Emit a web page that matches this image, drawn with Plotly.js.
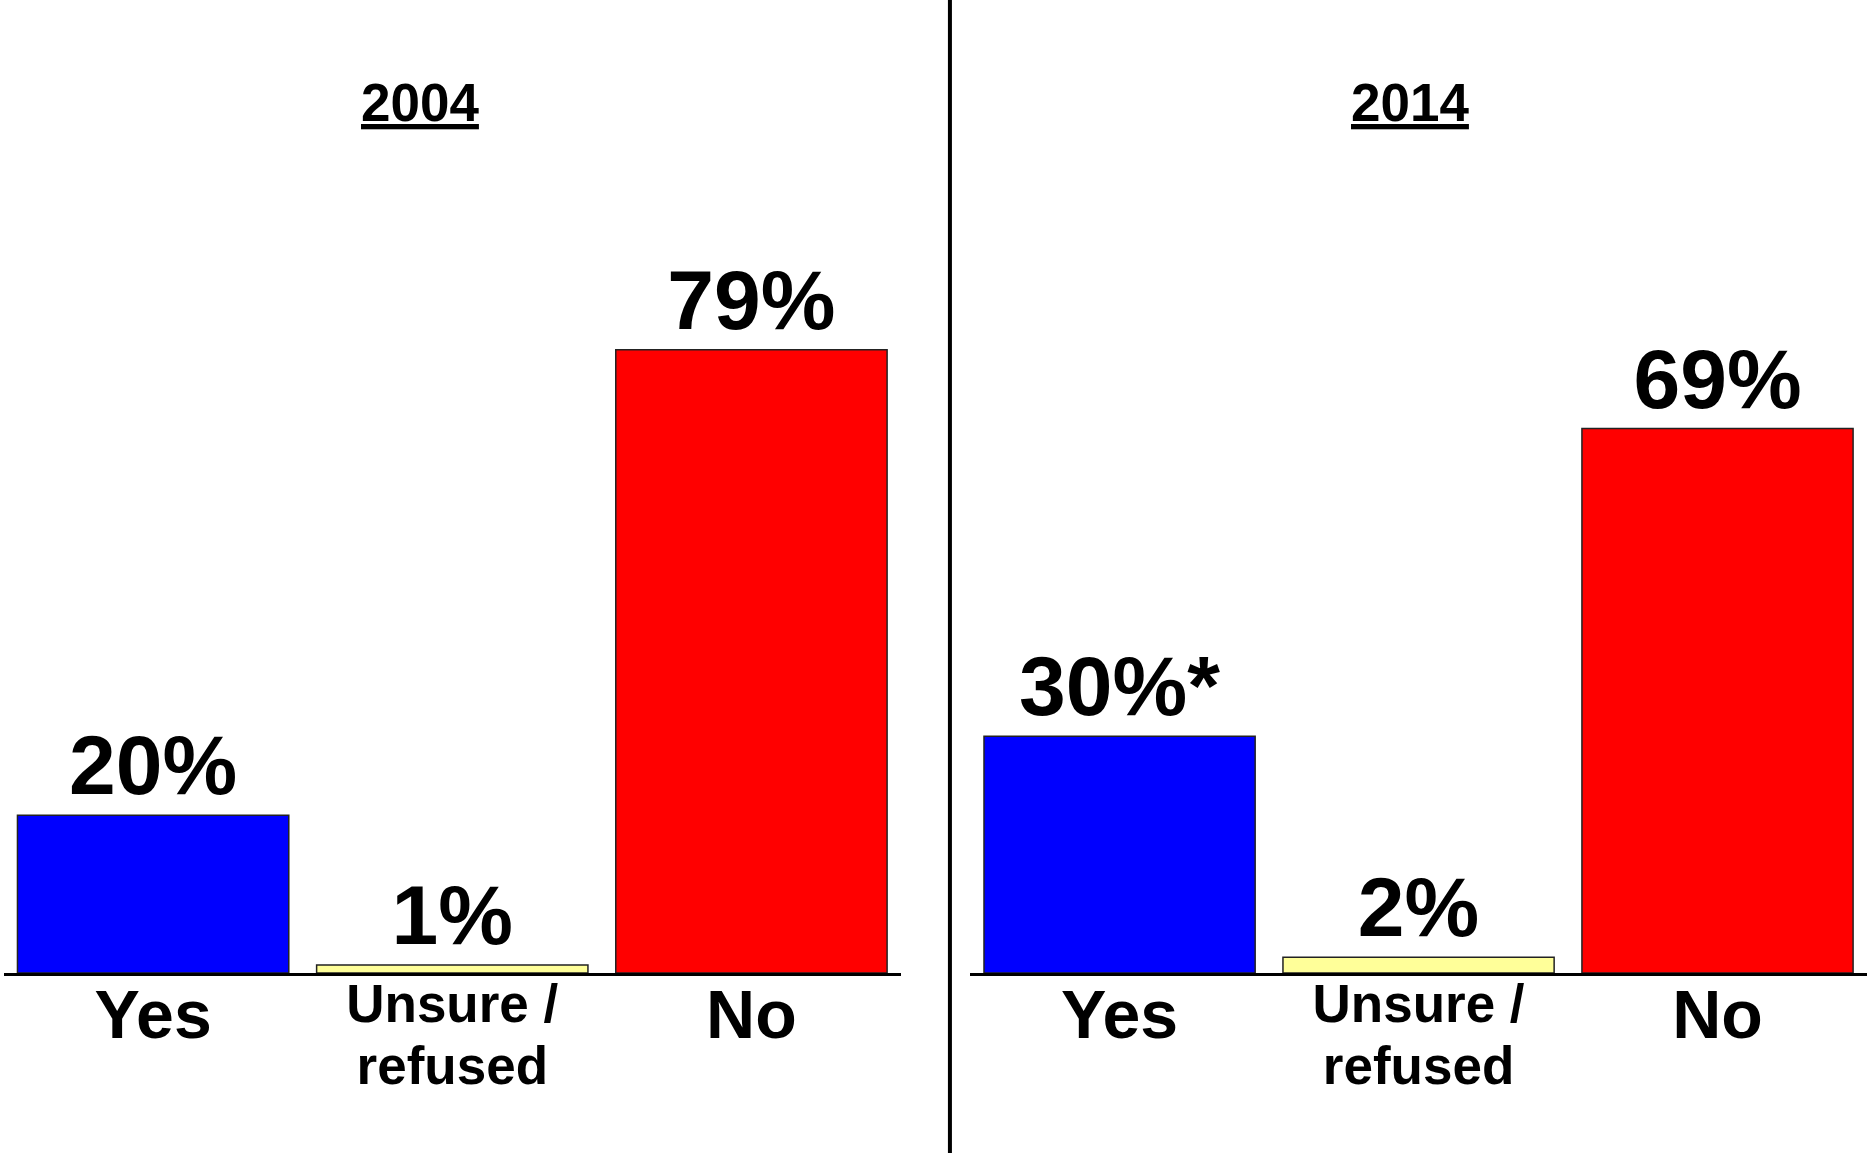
<!DOCTYPE html>
<html>
<head>
<meta charset="utf-8">
<script src="https://cdn.plot.ly/plotly-3.0.1.min.js"></script>
<style>html,body{margin:0;padding:0;background:#fff;}#chart{width:1867px;height:1153px;}</style>
</head>
<body>
<div id="chart"></div>
<script>
// ---- data ----
var categories = ['Yes', 'Unsure / refused', 'No'];
var tickLabels = ['Yes', 'Unsure /<br>refused', 'No'];
var panelTitles = ['2004', '2014'];
var values2004 = [20, 1, 79];
var values2014 = [30, 2, 69];
var notes2004 = ['', '', ''];
var notes2014 = ['*', '', ''];
var barColors = ['#0000FF', '#FFFF99', '#FF0000'];

// ---- build ----
var FONT = 'Liberation Sans, Arial, Helvetica, sans-serif';
function labelText(vals, notes) {
  return vals.map(function (v, i) { return v + '%' + notes[i]; });
}
function styledTicks(labels) {
  return labels.map(function (t) {
    if (t.indexOf('<br>') >= 0) {
      var parts = t.split('<br>');
      return parts[0] + '<br><span style="baseline-shift:7px">' + parts[1] + '</span>';
    }
    return '<span style="font-size:68px;baseline-shift:-16px">' + t + '</span>';
  });
}
function barTrace(vals, notes, xa, ya) {
  return {
    type: 'bar', x: categories, y: vals, xaxis: xa, yaxis: ya,
    width: 0.907,
    marker: { color: barColors, line: { color: '#222222', width: 1.5 } },
    text: labelText(vals, notes), textposition: 'outside', cliponaxis: false,
    constraintext: 'none',
    textfont: { family: FONT, size: 84, weight: 'bold', color: '#000' },
    hoverinfo: 'skip', showlegend: false
  };
}
var data = [barTrace(values2004, notes2004, 'x', 'y'), barTrace(values2014, notes2014, 'x2', 'y2')];

function xAxis(domain, anchor) {
  return {
    domain: domain, anchor: anchor, type: 'category',
    categoryorder: 'array', categoryarray: categories,
    range: [-0.5, 2.5], fixedrange: true,
    showline: true, linecolor: '#000', linewidth: 3,
    showgrid: false, zeroline: false, ticks: '',
    tickmode: 'array', tickvals: categories, ticktext: styledTicks(tickLabels),
    tickfont: { family: FONT, size: 53, weight: 'bold', color: '#000' },
    ticklabelstandoff: -18
  };
}
function yAxis(anchor) {
  return { anchor: anchor, range: [0, 100], visible: false, fixedrange: true, showgrid: false, zeroline: false };
}
var layout = {
  width: 1867, height: 1153,
  margin: { l: 0, r: 0, t: 184, b: 180, pad: 0 },
  paper_bgcolor: '#fff', plot_bgcolor: '#fff',
  font: { family: FONT, color: '#000' },
  xaxis: xAxis([0.0019, 0.4826], 'y'),
  yaxis: yAxis('x'),
  xaxis2: xAxis([0.5196, 1.0], 'y2'),
  yaxis2: yAxis('x2'),
  bargap: 0.093,
  annotations: [
    { text: '<u>' + panelTitles[0] + '</u>', xref: 'paper', yref: 'paper', x: 0.225, y: 1.103, xanchor: 'center', yanchor: 'middle', showarrow: false, font: { family: FONT, size: 53, weight: 'bold', color: '#000' } },
    { text: '<u>' + panelTitles[1] + '</u>', xref: 'paper', yref: 'paper', x: 0.755, y: 1.103, xanchor: 'center', yanchor: 'middle', showarrow: false, font: { family: FONT, size: 53, weight: 'bold', color: '#000' } }
  ],
  shapes: [
    { type: 'line', xref: 'paper', yref: 'paper', x0: 0.5088, x1: 0.5088, y0: -1, y1: 2, line: { color: '#000', width: 4 } }
  ]
};
Plotly.newPlot('chart', data, layout, { displayModeBar: false, staticPlot: true });
</script>
</body>
</html>
